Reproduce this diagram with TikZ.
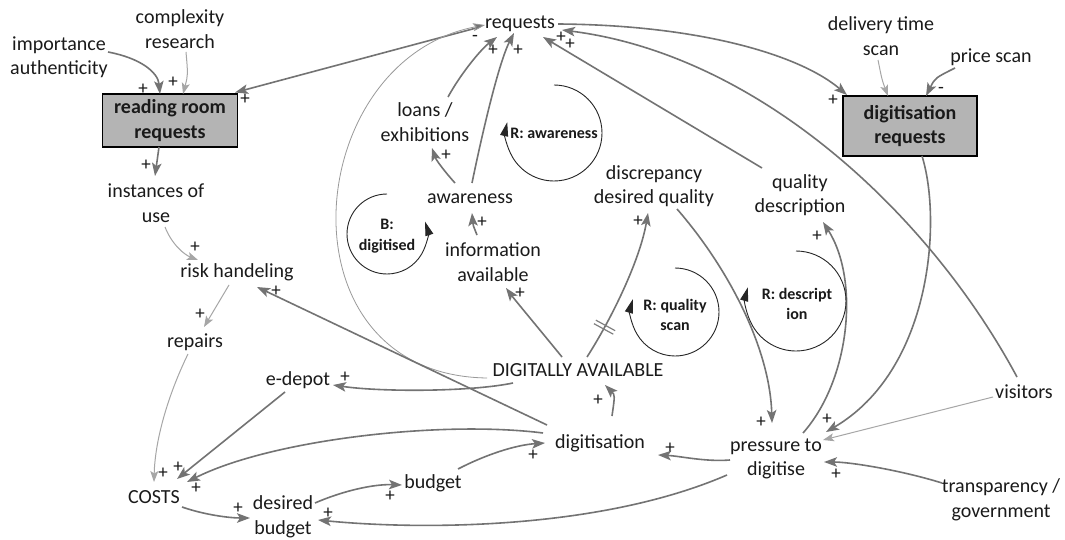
\documentclass[tikz,border=0pt]{standalone}
\usepackage{fontspec}
\setmainfont{Carlito}
\usetikzlibrary{arrows.meta,calc,decorations.markings}
\definecolor{arrgray}{HTML}{737373}
\definecolor{thingray}{HTML}{A6A6A6}
\definecolor{arcgray}{HTML}{999999}
\definecolor{boxgray}{HTML}{B4B4B4}
\definecolor{txt}{HTML}{1A1A1A}
\tikzset{
  lbl/.style={font=\fontsize{20}{24.5}\selectfont, align=center, text=txt, inner sep=1pt},
  boxn/.style={draw=black, line width=1.6pt, fill=boxgray, font=\fontsize{20}{24.5}\selectfont\bfseries, align=center, inner sep=0pt, text=txt},
  sgn/.style={font=\fontsize{19}{19}\selectfont, inner sep=0pt, text=txt},
  lp/.style={font=\fontsize{16}{20.5}\selectfont\bfseries, align=center, inner sep=0pt, text=txt},
  arr/.style={draw=arrgray, line width=1.6pt, -{Stealth[length=13pt,width=9.5pt,inset=3pt]}},
  thinarr/.style={draw=thingray, line width=1pt, -{Stealth[length=11pt,width=8pt,inset=2.5pt]}},
  thinarc/.style={draw=arcgray, line width=0.8pt, -{Stealth[length=12pt,width=8pt,inset=2.5pt,fill=arrgray]}},
  loopa/.style={draw=black!85, line width=0.9pt, -{Triangle[length=14pt,width=8pt]}},
  delaymark/.style={postaction={decorate, decoration={markings, mark=at position 0.22 with {\draw[-, draw=gray, line width=1.2pt] (-2pt,-11pt) -- (-2pt,11pt) (2pt,-11pt) -- (2pt,11pt);}}}}
}
\begin{document}
\begin{tikzpicture}[x=1pt,y=-1pt]
\fill[white] (0,0) rectangle (1065,540);
\useasboundingbox (0,0) rectangle (1065,540);

% variables
\node[lbl] (impauth) at (59,57) {importance\\authenticity};
\node[lbl] (complexity) at (180,29) {complexity\\research};
\node[boxn, minimum width=135pt, minimum height=53pt] (rrbox) at (170,120.5) {reading room\\requests};
\node[lbl] (requests) at (520,24) {requests};
\node[boxn, minimum width=134pt, minimum height=60pt] (dreqbox) at (910,126) {digitisation\\requests};
\node[lbl] (delivery) at (881,36) {delivery time\\scan};
\node[lbl] (price) at (991,57) {price scan};
\node[lbl] (instances) at (156,203) {instances of\\use};
\node[lbl, inner sep=0pt] (risk) at (237,272) {risk handeling};
\node[lbl] (repairs) at (195,342) {repairs};
\node[lbl] (edepot) at (298,380) {e-depot};
\node[lbl] (costs) at (154,497) {COSTS};
\node[lbl] (desbudget) at (283,517) {desired\\budget};
\node[lbl] (budget) at (433,483) {budget};
\node[lbl] (digitisation) at (600,443) {digitisation};
\node[lbl] (da) at (578,370) {DIGITALLY AVAILABLE};
\node[lbl] (info) at (493,262) {information\\available};
\node[lbl] (awareness) at (470,199) {awareness};
\node[lbl] (loans) at (425,122) {loans /\\exhibitions};
\node[lbl] (disc) at (654,186) {discrepancy\\desired quality};
\node[lbl] (qdesc) at (800,195) {quality\\description};
\node[lbl] (pressure) at (776,459) {pressure to\\digitise};
\node[lbl] (visitors) at (1024,392) {visitors};
\node[lbl] (transp) at (1001,500) {transparency /\\government};

% connectors
\draw[arr] ($(impauth)+(49,-5)$) .. controls (140,58) and (158,72) .. ($(rrbox)+(-10,-26.5)$);
\draw[thinarr] ($(complexity)+(6,23)$) .. controls (188,75) .. ($(rrbox)+(13,-26.5)$);
\draw[arr] ($(requests)+(-40,3)$) -- ($(rrbox)+(65,-28)$);
\draw[thinarc] ($(da)+(-91,8)$) .. controls (275,375) and (300,60) .. ($(requests)+(-35,1)$);
\draw[arr] ($(requests)+(38,0)$) .. controls (700,25) and (800,55) .. ($(dreqbox)+(-63,-31)$);
\draw[thinarr] ($(delivery)+(-3,24)$) .. controls (882,80) .. ($(dreqbox)+(-22,-30)$);
\draw[arr] ($(price)+(-36,11)$) .. controls (935,78) .. ($(dreqbox)+(16,-30)$);
\draw[arr] ($(rrbox)+(-11,26.5)$) -- ($(instances)+(-1,-27)$);
\draw[thinarr] ($(instances)+(9,24)$) .. controls (172,245) and (185,255) .. ($(risk)+(-39,-12)$);
\draw[thinarr] ($(risk)+(-8,13)$) -- ($(repairs)+(9,-15)$);
\draw[thinarr] ($(repairs)+(-7,12)$) .. controls (168,395) and (155,440) .. ($(costs)+(0,-15)$);
\draw[arr] ($(digitisation)+(-53,-18)$) -- ($(risk)+(20,15)$);
\draw[arr] ($(da)+(-65,13)$) .. controls (470,392) and (380,392) .. ($(edepot)+(35,5)$);
\draw[arr] ($(edepot)+(-13,12)$) -- ($(costs)+(23,-18)$);
\draw[arr] ($(digitisation)+(-57,-10)$) .. controls (440,420) and (270,440) .. ($(costs)+(33,-15)$);
\draw[arr] ($(costs)+(28,10)$) .. controls (205,515) and (230,518) .. ($(desbudget)+(-33,1)$);
\draw[arr] ($(desbudget)+(32,-14)$) .. controls (345,490) and (375,484) .. ($(budget)+(-31,2)$);
\draw[arr] ($(budget)+(25,-14)$) .. controls (485,455) and (515,445) .. ($(digitisation)+(-55,0)$);
\draw[arr] ($(pressure)+(-46,1)$) .. controls (705,462) and (680,456) .. ($(digitisation)+(58,12)$);
\draw[arr] ($(pressure)+(-49,16)$) .. controls (600,530) and (420,530) .. ($(desbudget)+(35,3)$);
\draw[arr] ($(digitisation)+(12,-27)$) .. controls (615,395) .. ($(da)+(27,15)$);
\draw[arr] ($(da)+(-16,-13)$) .. controls (540,330) and (515,300) .. ($(info)+(13,26)$);
\draw[arr, delaymark] ($(da)+(9,-13)$) .. controls (612,318) and (640,260) .. ($(disc)+(-6,27)$);
\draw[arr] ($(info)+(-16,-27)$) .. controls (473,225) .. ($(awareness)+(2,14)$);
\draw[arr] ($(awareness)+(-15,-16)$) .. controls (445,172) and (436,160) .. ($(loans)+(7,26)$);
\draw[arr] ($(loans)+(23,-25)$) .. controls (460,75) and (480,50) .. ($(requests)+(-23,13)$);
\draw[arr] ($(awareness)+(2,-16)$) .. controls (485,120) and (500,60) .. ($(requests)+(-6,9)$);
\draw[arr] ($(qdesc)+(-38,-27)$) -- ($(requests)+(23,13)$);
\draw[arr] ($(visitors)+(-7,-15)$) .. controls (930,215) and (760,55) .. ($(requests)+(42,6)$);
\draw[thinarr] ($(visitors)+(-31,5)$) -- ($(pressure)+(47,-19)$);
\draw[arr] ($(dreqbox)+(12,30)$) .. controls (942,220) and (932,370) .. ($(pressure)+(50,-27)$);
\draw[arr] ($(disc)+(23,23)$) .. controls (730,270) and (770,350) .. ($(pressure)+(-4,-36)$);
\draw[arr] ($(pressure)+(27,-26)$) .. controls (850,380) and (860,280) .. ($(qdesc)+(23,27)$);
\draw[arr] ($(transp)+(-59,-17)$) .. controls (900,470) and (850,462) .. ($(pressure)+(48,3)$);

% polarity signs
\node[sgn] (s1) at (143,89) {+};
\node[sgn] (s2) at (173,82) {+};
\node[sgn] (s3) at (245,99) {+};
\node[sgn] (s4) at (475,38) {-};
\node[sgn] (s5) at (493,50) {+};
\node[sgn] (s6) at (518,50) {+};
\node[sgn] (s7) at (561,37) {+};
\node[sgn] (s8) at (570,44) {+};
\node[sgn] (s9) at (833,100) {+};
\node[sgn] (s10) at (941,90) {-};
\node[sgn] (s11) at (146,165) {+};
\node[sgn] (s12) at (195,247) {+};
\node[sgn] (s13) at (200,314) {+};
\node[sgn] (s14) at (276,291) {+};
\node[sgn] (s15) at (163,473) {+};
\node[sgn] (s16) at (178,467) {+};
\node[sgn] (s17) at (196,488) {+};
\node[sgn] (s18) at (345,377) {+};
\node[sgn] (s19) at (238,508) {+};
\node[sgn] (s20) at (328,513) {+};
\node[sgn] (s21) at (390,496) {+};
\node[sgn] (s22) at (533,455) {+};
\node[sgn] (s23) at (670,448) {+};
\node[sgn] (s24) at (598,400) {+};
\node[sgn] (s25) at (520,293) {+};
\node[sgn] (s26) at (638,221) {+};
\node[sgn] (s27) at (482,222) {+};
\node[sgn] (s28) at (446,155) {+};
\node[sgn] (s29) at (827,419) {+};
\node[sgn] (s30) at (761,422) {+};
\node[sgn] (s31) at (817,236) {+};
\node[sgn] (s32) at (836,474) {+};

% loops
\draw[loopa] (554,85) arc[start angle=90, end angle=-193, radius=48pt];
\draw[loopa] (387,194) arc[start angle=90, end angle=378, radius=40pt];
\draw[loopa] (675,268) arc[start angle=90, end angle=-197, radius=44pt];
\draw[loopa] (796,251) arc[start angle=90, end angle=-196, radius=50pt];
\node[lp] (lawr) at (554,133) {R: awareness};
\node[lp] (ldig) at (387,236) {B:\\digitised};
\node[lp] (lqs) at (675,315) {R: quality\\scan};
\node[lp] (ldesc) at (797,304) {R: descript\\ion};
\end{tikzpicture}
\end{document}
